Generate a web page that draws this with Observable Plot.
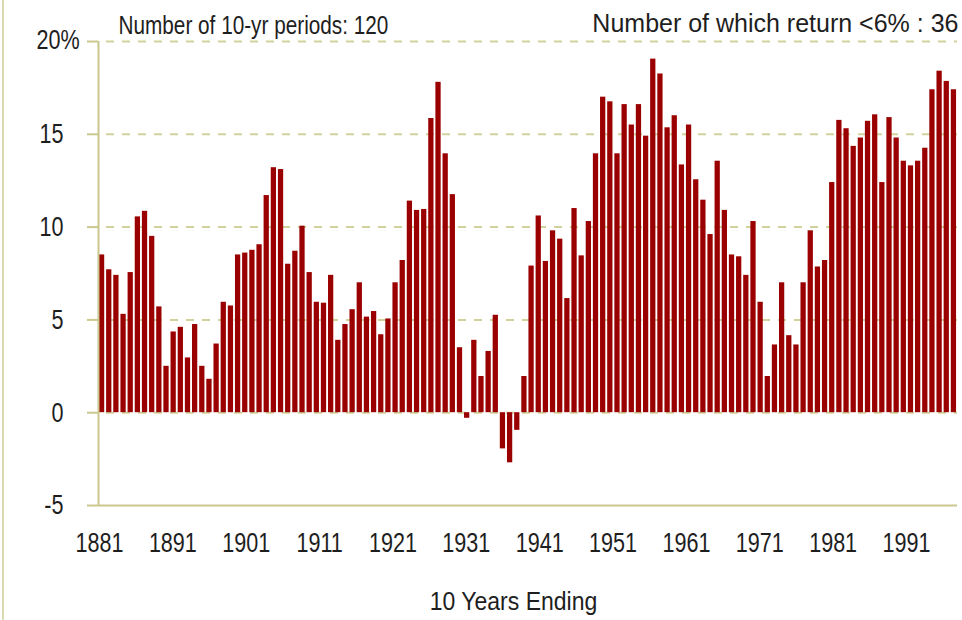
<!DOCTYPE html>
<html>
<head>
<meta charset="utf-8">
<script src="https://cdn.jsdelivr.net/npm/d3@7"></script>
<script src="https://cdn.jsdelivr.net/npm/@observablehq/plot@0.6"></script>
<style>
  html, body { margin: 0; padding: 0; background: #ffffff; }
  #wrap { position: relative; width: 962px; height: 620px; overflow: hidden; background: #ffffff; }
  #wrap svg { display: block; }
  #edge { position: absolute; left: 2px; top: 0; width: 2px; height: 620px; background: #dcdab0; }
</style>
</head>
<body>
<div id="wrap"></div>
<script>
// ---- data ----
const firstYear = 1881;
const returns = [
  8.5, 7.7, 7.4, 5.3, 7.55, 10.55, 10.85, 9.5, 5.7, 2.5,
  4.35, 4.6, 2.95, 4.75, 2.5, 1.8, 3.7, 5.95, 5.75, 8.5,
  8.6, 8.75, 9.05, 11.7, 13.2, 13.1, 8.0, 8.7, 10.05, 7.55,
  5.95, 5.9, 7.4, 3.9, 4.75, 5.55, 7.0, 5.15, 5.45, 4.2,
  5.05, 7.0, 8.2, 11.4, 10.9, 10.95, 15.85, 17.8, 13.95, 11.75,
  3.5, -0.3, 3.9, 1.95, 3.3, 5.25, -1.95, -2.7, -0.95, 1.95,
  7.9, 10.6, 8.15, 9.8, 9.35, 6.15, 11.0, 8.45, 10.3, 13.95,
  17.0, 16.75, 13.95, 16.6, 15.5, 16.6, 14.9, 19.05, 18.25, 15.35,
  16.0, 13.35, 15.5, 12.55, 11.45, 9.6, 13.55, 10.9, 8.5, 8.4,
  7.4, 10.3, 5.95, 1.95, 3.65, 7.0, 4.15, 3.65, 7.0, 9.8,
  7.85, 8.2, 12.4, 15.75, 15.3, 14.35, 14.8, 15.7, 16.05, 12.4,
  15.9, 14.8, 13.55, 13.3, 13.55, 14.25, 17.4, 18.4, 17.85, 17.4
];
const years = d3.range(firstYear, firstYear + returns.length);
const tickYears = [1881, 1891, 1901, 1911, 1921, 1931, 1941, 1951, 1961, 1971, 1981, 1991];
const yTicks = [-5, 0, 5, 10, 15, 20];
const gridValues = [0, 5, 10, 15, 20];
const topTickLabel = "20%";
const leftTitle = "Number of 10-yr periods: 120";
const rightTitle = "Number of which return <6% : 36";
const xTitle = "10 Years Ending";

// ---- styles ----
const font = "'Liberation Sans', Arial, sans-serif";
const barColor = "#9a0000";
const axisColor = "#cac88f";
const gridColor = "#d3d19c";
const textColor = "#1e1e1e";
// horizontal condensing of the (condensed) reference typeface
const condense = new Map([[leftTitle, 0.83], [rightTitle, 1.0], [xTitle, 0.92]]);
const condenseDefault = 0.77;

const data = years.map((year, i) => ({year, value: returns[i]}));
const lastYear = years[years.length - 1];
const yTop = yTicks[yTicks.length - 1];

const main = Plot.plot({
  width: 962,
  height: 512,
  marginLeft: 98,
  marginRight: 5,
  marginTop: 41,
  marginBottom: 7,
  x: {domain: [firstYear - 0.5, lastYear + 0.5], axis: null},
  y: {domain: [yTicks[0], yTop], axis: null},
  style: {fontFamily: font, fontSize: "26px", color: textColor, background: "transparent", overflow: "visible"},
  marks: [
    Plot.ruleY(gridValues, {stroke: gridColor, strokeWidth: 2, strokeDasharray: "8,8", strokeDashoffset: 8}),
    Plot.rect(data, {
      x1: d => d.year - 0.5, x2: d => d.year + 0.5,
      y1: 0, y2: "value",
      insetLeft: 0.95, insetRight: 0.95,
      fill: barColor
    }),
    Plot.ruleX([firstYear - 0.5], {y1: yTicks[0], y2: yTop, stroke: axisColor, strokeWidth: 2}),
    Plot.ruleY([yTicks[0]], {stroke: axisColor, strokeWidth: 2}),
    Plot.axisY(yTicks, {
      anchor: "left", tickSize: 11, tickPadding: 24,
      stroke: axisColor, strokeWidth: 2, fill: textColor,
      tickFormat: d => d === yTop ? "" : String(d), fontSize: 28
    }),
    Plot.text([{v: yTop, s: topTickLabel}], {
      y: "v", text: "s", frameAnchor: "left", textAnchor: "start", dx: -62, dy: -1, fill: textColor, fontSize: 28
    }),
    Plot.text([leftTitle], {
      frameAnchor: "top-left", textAnchor: "start", lineAnchor: "bottom",
      dx: 20, dy: -8, fill: textColor, fontSize: 25
    }),
    Plot.text([rightTitle], {
      frameAnchor: "top-right", textAnchor: "end", lineAnchor: "bottom",
      dx: 1, dy: -10, fill: textColor, fontSize: 25
    })
  ]
});

const axisRow = Plot.plot({
  width: 962,
  height: 108,
  margin: 0,
  x: {domain: [tickYears[0], tickYears[tickYears.length - 1]], range: [99, 906], axis: null},
  y: {axis: null},
  style: {fontFamily: font, fontSize: "26px", color: textColor, background: "transparent", overflow: "visible"},
  marks: [
    Plot.text(tickYears, {x: d => d, text: d => String(d), frameAnchor: "top", lineAnchor: "middle", dy: 31, fill: textColor, fontSize: 28}),
    Plot.text([xTitle], {frameAnchor: "top-left", textAnchor: "middle", lineAnchor: "bottom", dx: 513, dy: 97, fill: textColor, fontSize: 25})
  ]
});

const wrap = document.getElementById("wrap");
wrap.appendChild(main);
wrap.appendChild(axisRow);
const edge = document.createElement("div");
edge.id = "edge";
wrap.appendChild(edge);

// narrow the glyphs to imitate the condensed face of the original
wrap.querySelectorAll("svg text").forEach(t => {
  const s = t.textContent;
  const k = condense.has(s) ? condense.get(s) : condenseDefault;
  if (k === 1 || !s) return;
  const len = t.getComputedTextLength();
  if (len > 0) {
    t.setAttribute("textLength", (len * k).toFixed(2));
    t.setAttribute("lengthAdjust", "spacingAndGlyphs");
  }
});
</script>
</body>
</html>
